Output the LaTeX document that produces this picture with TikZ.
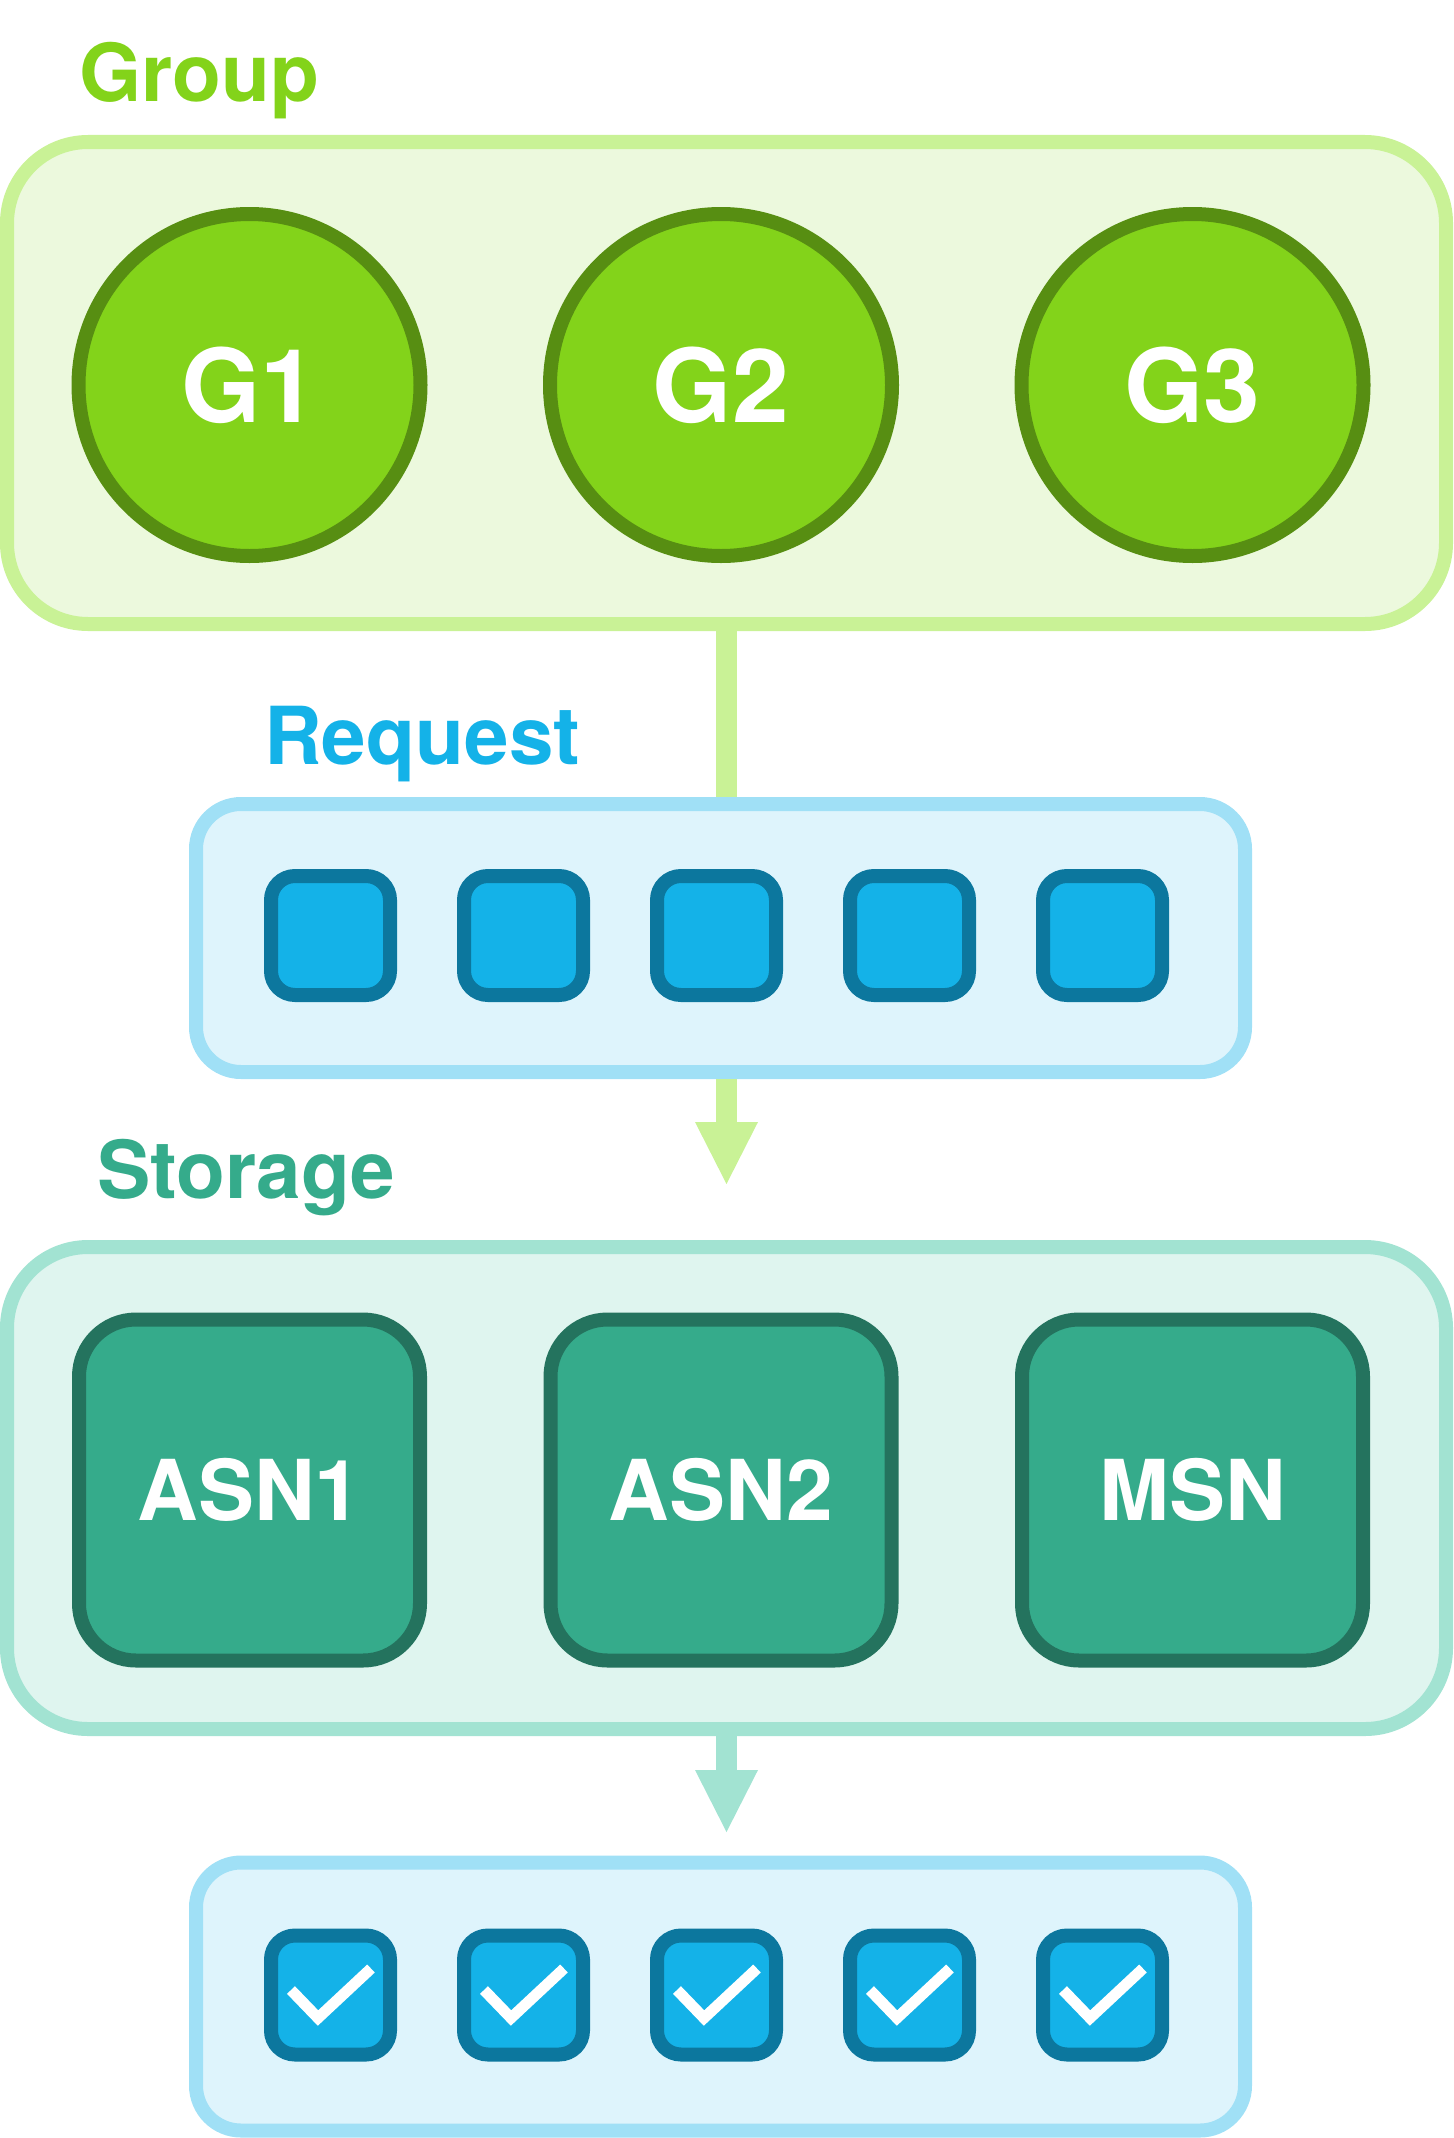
\documentclass[tikz,border=0pt]{standalone}
\usepackage{fontspec}
\setmainfont{TeX Gyre Heros}
\usetikzlibrary{arrows.meta}
\definecolor{grpline}{HTML}{C9F296}
\definecolor{grpfill}{HTML}{ECF9DD}
\definecolor{grpmid}{HTML}{83D31A}
\definecolor{grpdark}{HTML}{578E12}
\definecolor{reqline}{HTML}{A0E0F6}
\definecolor{reqfill}{HTML}{DEF4FC}
\definecolor{reqmid}{HTML}{14B2E8}
\definecolor{reqdark}{HTML}{0C779E}
\definecolor{stoline}{HTML}{A2E3D2}
\definecolor{stofill}{HTML}{DFF5EF}
\definecolor{stomid}{HTML}{35AB8B}
\definecolor{stodark}{HTML}{24735E}
\begin{document}
\begin{tikzpicture}[x=1pt,y=-1pt,
  title/.style={anchor=base west,inner sep=0pt,font=\bfseries\fontsize{80pt}{96pt}\selectfont},
  panel/.style={rectangle,line width=14pt,rounded corners=81pt,minimum width=1439pt,minimum height=482pt},
  tray/.style={rectangle,draw=reqline,fill=reqfill,line width=14pt,rounded corners=45pt,minimum width=1049pt,minimum height=268pt},
  grpnode/.style={circle,draw=grpdark,fill=grpmid,line width=14pt,minimum size=342pt,inner sep=0pt,text=white,font=\bfseries\fontsize{102pt}{120pt}\selectfont},
  stonode/.style={rectangle,draw=stodark,fill=stomid,line width=14pt,rounded corners=57pt,minimum size=341pt,inner sep=0pt,text=white,font=\bfseries\fontsize{84pt}{100pt}\selectfont},
  reqnode/.style={rectangle,draw=reqdark,fill=reqmid,line width=14pt,rounded corners=24pt,minimum size=119pt,inner sep=0pt},
  chk/.style={draw=white,line width=11pt},
  flow/.style={line width=21pt,-{Triangle[width=63pt,length=62pt,line width=0pt]}}]
 \useasboundingbox (0,0) rectangle (1453,2138);

 % group
 \node[title,text=grpmid] (tgrp) at (79,102) {Group};
 \node[panel,draw=grpline,fill=grpfill] (grp) at (726.5,383) {};
 \node[grpnode] (g1) at (249.5,385) {G1};
 \node[grpnode] (g2) at (721,385) {G2};
 \node[grpnode] (g3) at (1192.5,385) {G3};

 % request
 \node[title,text=reqmid] (treq) at (264,764) {Request};
 \node[tray] (req) at (720.5,938) {};
 \foreach \i/\x in {1/330.5,2/523.5,3/716.5,4/909.5,5/1102.5}
  \node[reqnode] (r\i) at (\x,935.5) {};

 % storage
 \node[title,text=stomid] (tsto) at (97,1198) {Storage};
 \node[panel,draw=stoline,fill=stofill] (sto) at (726.5,1488) {};
 \node[stonode] (s1) at (249.5,1490) {ASN1};
 \node[stonode] (s2) at (721,1490) {ASN2};
 \node[stonode] (s3) at (1192.5,1490) {MSN};

 % done
 \node[tray] (done) at (720.5,1996.5) {};
 \foreach \i/\x in {1/330.5,2/523.5,3/716.5,4/909.5,5/1102.5}{
  \node[reqnode] (c\i) at (\x,1995) {};
  \draw[chk] (c\i.center) ++(-39.5,-5) -- ++(27,28) -- ++(53,-49.5);
 }

 \coordinate (a1) at (726.5,1184);
 \coordinate (a2) at (726.5,1832);
 \draw[grpline,line width=21pt] (grp.south) -- (grp.south |- req.north);
 \draw[flow,grpline] (a1 |- req.south) -- (a1);
 \draw[flow,stoline] (sto.south) -- (a2);
\end{tikzpicture}
\end{document}
